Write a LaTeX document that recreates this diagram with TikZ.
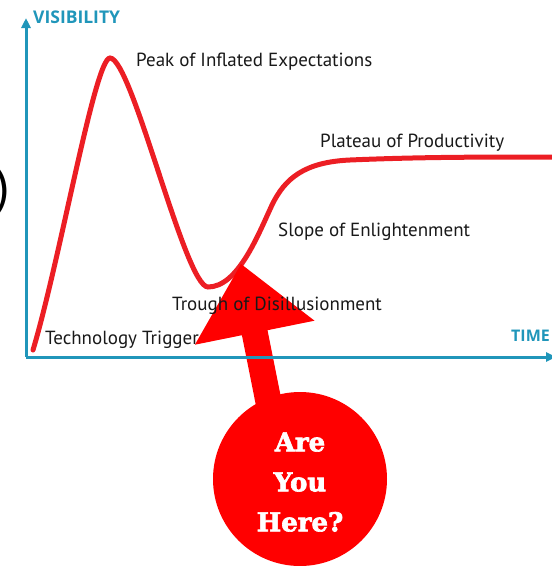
\documentclass[tikz,border=0pt]{standalone}
\usepackage{fontspec}
\setmainfont{PT Sans}
\newfontfamily\axisfont{Open Sans}
\newfontfamily\badgefont[BoldFeatures={FakeBold=2.5}]{DejaVu Serif}
\usetikzlibrary{arrows.meta}
\definecolor{axisteal}{RGB}{32,150,186}
\definecolor{curvered}{RGB}{236,30,36}
\definecolor{badgered}{RGB}{255,0,0}
\definecolor{labelgray}{RGB}{25,25,25}
\begin{document}
\begin{tikzpicture}[x=1pt,y=-1pt,
  axisline/.style={draw=axisteal,line width=3pt,-{Triangle[length=10pt,width=9pt]}},
  axislabel/.style={text=axisteal,font=\axisfont\fontsize{16}{16}\selectfont\bfseries,inner sep=0pt},
  phase/.style={text=labelgray,font=\fontsize{19}{19}\selectfont,inner sep=0pt,anchor=west},
  hype/.style={draw=curvered,line width=5pt,line cap=round},
  badge/.style={fill=badgered,draw=none},
  badgetext/.style={text=white,align=center,inner sep=0pt,
    font=\badgefont\bfseries\fontsize{26}{40}\selectfont}]
\useasboundingbox (0,0) rectangle (552,566);

% axes
\coordinate (origin) at (26,357);
\coordinate (vtop) at (26,18);
\coordinate (hend) at (556,357);

% hype curve
\coordinate (trigger) at (33,350);
\coordinate (peak) at (110,58);
\coordinate (trough) at (208,287);
\coordinate (slope) at (272,205);
\coordinate (shoulder) at (350,160);
\coordinate (plateau) at (556,157);
\draw[hype] (trigger) .. controls (60,260) and (95,58) .. (peak)
  .. controls (132,58) and (185,287) .. (trough)
  .. controls (238,287) and (258,235) .. (slope)
  .. controls (285,178) and (305,162) .. (shoulder)
  .. controls (420,157) and (480,157) .. (plateau);

% pointer arrow and badge
\coordinate (tip) at (241,264);
\coordinate (rbarb) at (314.5,320.7);
\coordinate (rneck) at (267.5,330.2);
\coordinate (rfoot) at (293,457.6);
\coordinate (lfoot) at (267.4,462.8);
\coordinate (lneck) at (241.9,335.2);
\coordinate (lbarb) at (194.9,344.7);
\fill[badgered] (tip) -- (rbarb) -- (rneck) -- (rfoot) -- (lfoot) -- (lneck) -- (lbarb) -- cycle;
\node[badge,circle,minimum size=174pt,inner sep=0pt] (badge) at (300,479) {};
\node[badgetext] (question) at (300,482) {Are\\You\\Here?};

% axes on top
\draw[axisline] (origin) -- (vtop);
\draw[axisline] (origin) -- (hend);
\node[axislabel,anchor=west,font=\axisfont\fontsize{17.5}{17.5}\selectfont\bfseries] (vis) at (33,17) {VISIBILITY};
\node[axislabel,anchor=east] (time) at (550,336) {TIME};

% phase labels
\node[phase] (lpeak) at (136,62) {Peak of Inflated Expectations};
\node[phase] (lplateau) at (320,143) {Plateau of Productivity};
\node[phase] (lslope) at (278,232) {Slope of Enlightenment};
\node[phase] (ltrough) at (172,306) {Trough of Disillusionment};
\node[phase] (ltrigger) at (45,340) {Technology Trigger};

% stray parenthesis at the left margin
\node[text=black,font=\fontsize{52}{52}\selectfont,inner sep=0pt,anchor=east] (paren) at (10,192) {)};
\end{tikzpicture}
\end{document}
